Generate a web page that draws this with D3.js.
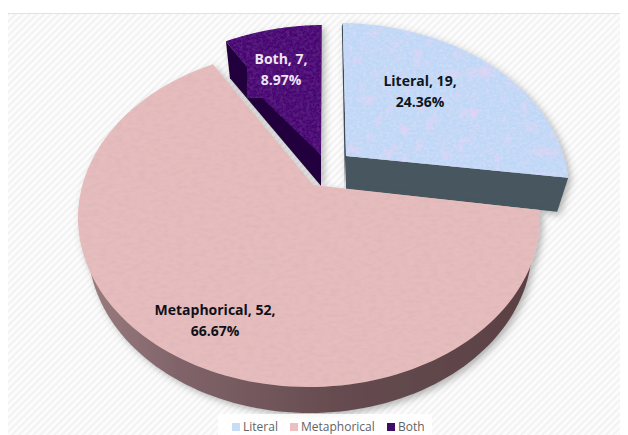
<!DOCTYPE html>
<html>
<head>
<meta charset="utf-8">
<script src="https://cdn.jsdelivr.net/npm/d3@7"></script>
<style>
  html, body { margin: 0; padding: 0; background: #fff; }
  svg { display: block; }
  text { font-family: "Open Sans", "Noto Sans", sans-serif; }
</style>
</head>
<body>
<script>
// Usage counts per reading type
const categories = ["Literal", "Metaphorical", "Both"];
const counts = [19, 52, 7];

const topColors = ["#bed7f6", "#e7bcbd", "#470f72"];
const labelColors = ["#10151c", "#10101a", "#efe4f4"];
const legendColors = ["#c9dcf5", "#eebfc0", "#3f0c66"];

// Each exploded slice sits on its own tilted ellipse
const rx = 231, ry = 169;
const ellipseCenters = [[338, 192], [309, 218], [325, 194]];
const apexes = [[346, 156], [313, 185], [321, 155]];
// Where each slice's start and end fall on its ellipse, degrees clockwise from the top
const rimSweeps = [[1.2, 85.2], [87.3, 335.4], [334.6, 359.2]];
const labelAnchors = [[420, 86], [215, 315], [281, 64]];
// The purple face has a stepped lower-left edge in this perspective
const bothStep = [[262, 98], [247, 98], [247, 67]];

const width = 628, height = 435;
const svg = d3.select("body").append("svg").attr("width", width).attr("height", height);
const defs = svg.append("defs");

// Hatched panel background
const hatch = defs.append("pattern").attr("id", "hatch").attr("patternUnits", "userSpaceOnUse")
  .attr("width", 5).attr("height", 5).attr("patternTransform", "rotate(45)");
hatch.append("rect").attr("width", 5).attr("height", 5).attr("fill", "#fcfcfc");
hatch.append("rect").attr("width", 2).attr("height", 5).attr("fill", "#f2f2f2");

// Paper-like grain for the top faces; the blue one also carries magenta blotches
function grain(id, freq, darkness, blotch) {
  const f = defs.append("filter").attr("id", id).attr("x", 0).attr("y", 0).attr("width", 1).attr("height", 1);
  f.append("feTurbulence").attr("type", "fractalNoise").attr("baseFrequency", freq)
    .attr("numOctaves", 3).attr("seed", 4).attr("result", "n");
  f.append("feColorMatrix").attr("in", "n").attr("type", "matrix")
    .attr("values", `0 0 0 0 ${darkness[0]}  0 0 0 0 ${darkness[1]}  0 0 0 0 ${darkness[2]}  ${darkness[3]} 0 0 0 ${darkness[4]}`)
    .attr("result", "tint");
  f.append("feComposite").attr("in", "tint").attr("in2", "SourceGraphic").attr("operator", "in").attr("result", "grainy");
  const layers = ["SourceGraphic"];
  if (blotch) {
    f.append("feTurbulence").attr("type", "fractalNoise").attr("baseFrequency", "0.075")
      .attr("numOctaves", 2).attr("seed", 9).attr("result", "b");
    f.append("feColorMatrix").attr("in", "b").attr("type", "matrix")
      .attr("values", "0 0 0 0 0.82  0 0 0 0 0.62  0 0 0 0 0.9  2.6 0 0 0 -1.42").attr("result", "bt");
    f.append("feComposite").attr("in", "bt").attr("in2", "SourceGraphic").attr("operator", "in").attr("result", "bc");
    layers.push("bc");
  }
  layers.push("grainy");
  const m = f.append("feMerge");
  layers.forEach(l => m.append("feMergeNode").attr("in", l));
}
grain("grainPink", "0.13 0.28", [0.66, 0.46, 0.47, 1.1, -0.42], false);
grain("grainBlue", "0.3 0.4", [0.66, 0.74, 0.95, 1.5, -0.5], true);
grain("grainPurple", "0.3 0.35", [0.13, 0.02, 0.24, 1.6, -0.55], false);

const shadow = defs.append("filter").attr("id", "shade").attr("x", "-10%").attr("y", "-10%").attr("width", "125%").attr("height", "125%");
shadow.append("feDropShadow").attr("dx", 3).attr("dy", 3).attr("stdDeviation", 3.5)
  .attr("flood-color", "#555").attr("flood-opacity", 0.42);

const rimShade = defs.append("linearGradient").attr("id", "rimShade");
[[0, "#9a7c7e"], [0.2, "#80646a"], [0.55, "#664c50"], [1, "#5a4144"]].forEach(([o, c]) =>
  rimShade.append("stop").attr("offset", o).attr("stop-color", c));

svg.append("rect").attr("x", 8).attr("y", 13).attr("width", 612).attr("height", 422).attr("fill", "url(#hatch)");
svg.append("line").attr("x1", 8).attr("x2", 620).attr("y1", 13.5).attr("y2", 13.5).attr("stroke", "#e2e2e2");

// Slice angles come straight from the counts
const arcs = d3.pie().sort(null)(counts);
const total = d3.sum(counts);
const rad = Math.PI / 180;
const line = d3.line();
const rimPoint = (c, deg) => [c[0] + rx * Math.sin(deg * rad), c[1] - ry * Math.cos(deg * rad)];

function topRim(i) {
  const a = arcs[i];
  const sweep = d3.scaleLinear().domain([a.startAngle, a.endAngle]).range(rimSweeps[i]);
  return d3.range(0, 121).map(k =>
    rimPoint(ellipseCenters[i], sweep(a.startAngle + (a.endAngle - a.startAngle) * k / 120)));
}

// Literal: cut faces under both straight edges
const literalRim = topRim(0);
const literalEnd = literalRim[literalRim.length - 1];
const gLit = svg.append("g").attr("filter", "url(#shade)");
gLit.append("path").attr("fill", "#3d4b57")
  .attr("d", line([literalRim[0], apexes[0], [apexes[0][0] - 1, apexes[0][1] + 33], [literalRim[0][0] - 1, literalRim[0][1] + 3]]) + "Z");
gLit.append("path").attr("fill", "#47565f")
  .attr("d", line([apexes[0], literalEnd, [literalEnd[0] - 11, literalEnd[1] + 34], [apexes[0][0], apexes[0][1] + 33]]) + "Z");
gLit.append("path").attr("d", line([apexes[0], ...literalRim]) + "Z").attr("fill", topColors[0]).attr("filter", "url(#grainBlue)");

// Both: cut face along its left edge
const bothRim = topRim(2);
const bothStart = bothRim[0];
const gBoth = svg.append("g").attr("filter", "url(#shade)");
gBoth.append("path").attr("fill", "#24063c")
  .attr("d", line([bothStart, apexes[2], [apexes[2][0], apexes[2][1] + 31], [bothStart[0] + 4, bothStart[1] + 37]]) + "Z");
gBoth.append("path").attr("d", line([apexes[2], ...bothStep, ...bothRim]) + "Z").attr("fill", topColors[2]).attr("filter", "url(#grainPurple)");

// Metaphorical: outer wall, then the top face
const wallCenter = [310, 246];
const wallOuter = d3.range(92, 270, 2).map(deg =>
  [wallCenter[0] + 222 * Math.sin(deg * rad), wallCenter[1] - 167 * Math.cos(deg * rad)]);
const metaRim = topRim(1);
const gMeta = svg.append("g").attr("filter", "url(#shade)");
gMeta.append("path").attr("d", line(wallOuter) + "Z").attr("fill", "url(#rimShade)");
gMeta.append("path").attr("d", line([apexes[1], ...metaRim]) + "Z").attr("fill", topColors[1]).attr("filter", "url(#grainPink)");

// Data labels: name and count, then the share
categories.forEach((name, i) => {
  const t = svg.append("text").attr("text-anchor", "middle").attr("fill", labelColors[i])
    .attr("font-size", 14).attr("font-weight", 700);
  t.append("tspan").attr("x", labelAnchors[i][0]).attr("y", labelAnchors[i][1]).text(`${name}, ${counts[i]},`);
  t.append("tspan").attr("x", labelAnchors[i][0]).attr("y", labelAnchors[i][1] + 21)
    .text(`${(counts[i] / total * 100).toFixed(2)}%`);
});

// Legend on its white plate
svg.append("rect").attr("x", 218).attr("y", 414).attr("width", 214).attr("height", 21).attr("fill", "#fff").attr("opacity", 0.85);
const legendSwatchX = [232, 290, 387];
categories.forEach((name, i) => {
  svg.append("rect").attr("x", legendSwatchX[i]).attr("y", 423).attr("width", 8).attr("height", 8).attr("fill", legendColors[i]);
  svg.append("text").attr("x", legendSwatchX[i] + 11).attr("y", 431).attr("font-size", 12)
    .attr("fill", "#636363").text(name);
});
</script>
</body>
</html>
